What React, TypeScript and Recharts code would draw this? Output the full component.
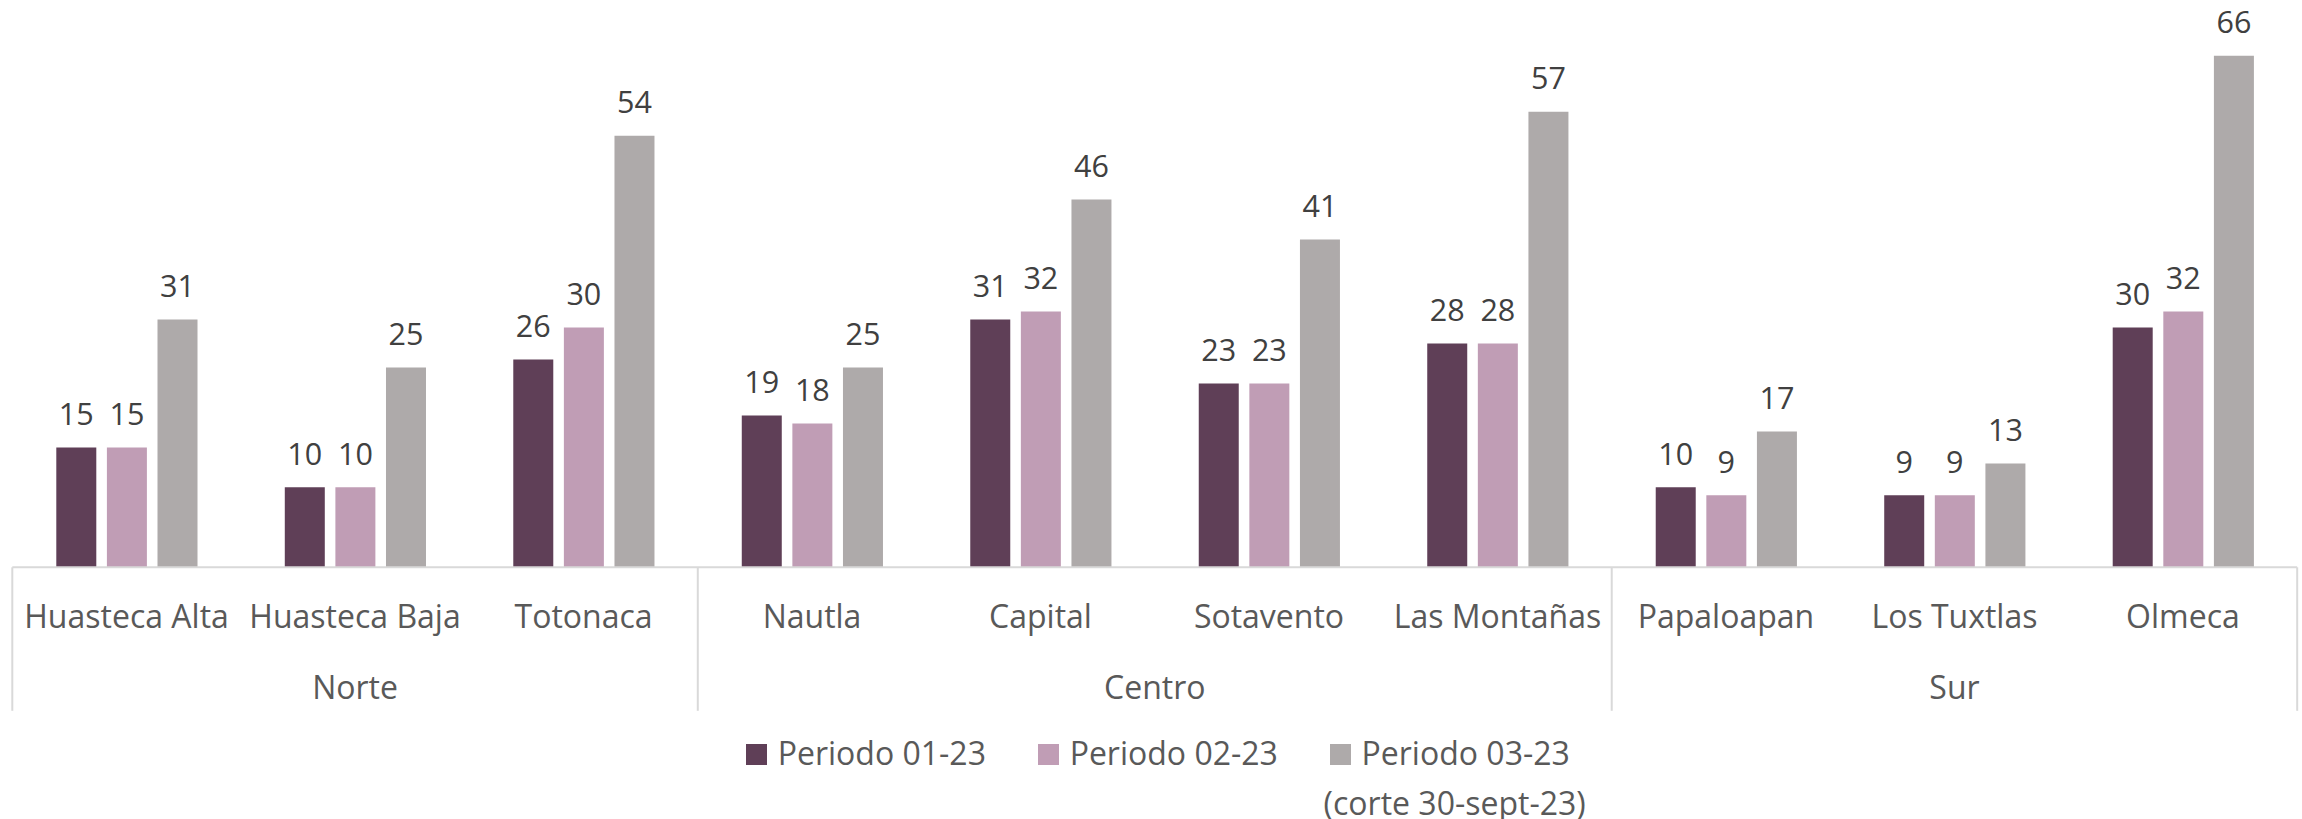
import React from 'react';
import { BarChart, Bar, XAxis, YAxis, LabelList, Legend } from 'recharts';

// ---- data ----
const regions = [
  'Huasteca Alta', 'Huasteca Baja', 'Totonaca',
  'Nautla', 'Capital', 'Sotavento', 'Las Montañas',
  'Papaloapan', 'Los Tuxtlas', 'Olmeca',
];
const zones = ['Norte', 'Centro', 'Sur'];
const zoneSizes = [3, 4, 3];
const periodo01 = [15, 10, 26, 19, 31, 23, 28, 10, 9, 30];
const periodo02 = [15, 10, 30, 18, 32, 23, 28, 9, 9, 32];
const periodo03 = [31, 25, 54, 25, 46, 41, 57, 17, 13, 66];
const seriesKeys = ['p1', 'p2', 'p3'];
const seriesNames = ['Periodo 01-23', 'Periodo 02-23', 'Periodo 03-23 (corte 30-sept-23)'];
const seriesColors = ['#5F3F57', '#C09DB5', '#AEAAAA'];
const yAxisMax = 64;

const data = regions.map((region, i) => ({
  region,
  pos: i + 0.5,
  p1: periodo01[i],
  p2: periodo02[i],
  p3: periodo03[i],
}));

// tick info for the two-level category axis (numeric positions in category units)
type TickInfo = { cat?: string; zone?: string; boundary?: boolean };
const tickInfo = new Map<number, TickInfo>();
const addTick = (v: number, info: TickInfo) => {
  tickInfo.set(v, { ...(tickInfo.get(v) || {}), ...info });
};
regions.forEach((r, i) => addTick(i + 0.5, { cat: r }));
{
  let start = 0;
  zones.forEach((z, k) => {
    addTick(start, { boundary: true });
    addTick(start + zoneSizes[k] / 2, { zone: z });
    start += zoneSizes[k];
  });
  addTick(start, { boundary: true });
}
const tickValues = Array.from(tickInfo.keys()).sort((a, b) => a - b);
const totalCats = regions.length;

// ---- layout / style ----
const W = 2302;
const H = 819;
const MARGIN = { top: 55.7, right: 4.8, bottom: 101.7, left: 12.3 };
const FONT = '"Open Sans", sans-serif';
const AXIS_COLOR = '#D9D9D9';
const LABEL_COLOR = '#595959';
const DATA_LABEL_COLOR = '#404040';

const AxisTick = (props: any) => {
  const { x, y, payload } = props;
  const info = tickInfo.get(Number(payload.value)) || {};
  return (
    <g>
      {info.boundary && (
        <line x1={x} x2={x} y1={y} y2={y + 143.5} stroke={AXIS_COLOR} strokeWidth={2} />
      )}
      {info.cat && (
        <text x={x} y={y + 61} textAnchor="middle" fontSize={32} fill={LABEL_COLOR} fontFamily={FONT}>
          {info.cat}
        </text>
      )}
      {info.zone && (
        <text x={x} y={y + 132} textAnchor="middle" fontSize={32} fill={LABEL_COLOR} fontFamily={FONT}>
          {info.zone}
        </text>
      )}
    </g>
  );
};

const renderValueLabel = (props: any) => {
  const { x, y, width, value } = props;
  const top = Math.max(Number(y), MARGIN.top);
  return (
    <text
      x={Number(x) + Number(width) / 2}
      y={top - 22.5}
      textAnchor="middle"
      fontSize={30.5}
      fill={DATA_LABEL_COLOR}
      fontFamily={FONT}
    >
      {value}
    </text>
  );
};

const renderLegend = (props: any) => {
  const payload = props.payload || [];
  return (
    <div style={{ display: 'flex', alignItems: 'flex-start', fontFamily: FONT, fontSize: 32, lineHeight: '32px', color: LABEL_COLOR }}>
      {payload.map((entry: any, i: number) => {
        const name: string = String(entry.value);
        const cut = name.indexOf(' (');
        const line1 = cut >= 0 ? name.slice(0, cut) : name;
        const line2 = cut >= 0 ? name.slice(cut + 1) : null;
        return (
          <div key={i} style={{ display: 'flex', alignItems: 'flex-start', marginRight: i < payload.length - 1 ? 52 : 0 }}>
            <div style={{ width: 21, height: 20.5, background: entry.color, marginTop: 7.6, marginRight: 10.7, flex: 'none' }} />
            <div style={{ display: 'flex', flexDirection: 'column', alignItems: 'flex-start', whiteSpace: 'nowrap' }}>
              <div>{line1}</div>
              {line2 && <div style={{ marginLeft: -38, marginTop: 18 }}>{line2}</div>}
            </div>
          </div>
        );
      })}
    </div>
  );
};

export default function App() {
  return (
    <div style={{ position: 'absolute', left: 0, top: 0, width: W, height: H, background: '#fff' }}>
      <BarChart
        width={W}
        height={H}
        data={data}
        margin={MARGIN}
        barSize={40}
        barGap={10.6}
      >
        <XAxis xAxisId="cat" dataKey="region" hide height={0} />
        <XAxis
          xAxisId="grp"
          dataKey="pos"
          type="number"
          domain={[0, totalCats]}
          allowDataOverflow
          ticks={tickValues}
          interval={0}
          tick={<AxisTick />}
          tickLine={false}
          tickSize={0}
          tickMargin={0}
          axisLine={{ stroke: AXIS_COLOR, strokeWidth: 2 }}
          height={150}
        />
        <YAxis hide domain={[0, yAxisMax]} allowDataOverflow />
        {seriesKeys.map((k, i) => (
          <Bar
            key={k}
            xAxisId="cat"
            dataKey={k}
            name={seriesNames[i]}
            fill={seriesColors[i]}
            isAnimationActive={false}
          >
            <LabelList dataKey={k} content={renderValueLabel} />
          </Bar>
        ))}
        <Legend
          verticalAlign="middle"
          align="center"
          layout="horizontal"
          content={renderLegend}
          wrapperStyle={{ top: 736.6, left: 746, width: 'auto', height: 'auto' }}
        />
      </BarChart>
    </div>
  );
}
